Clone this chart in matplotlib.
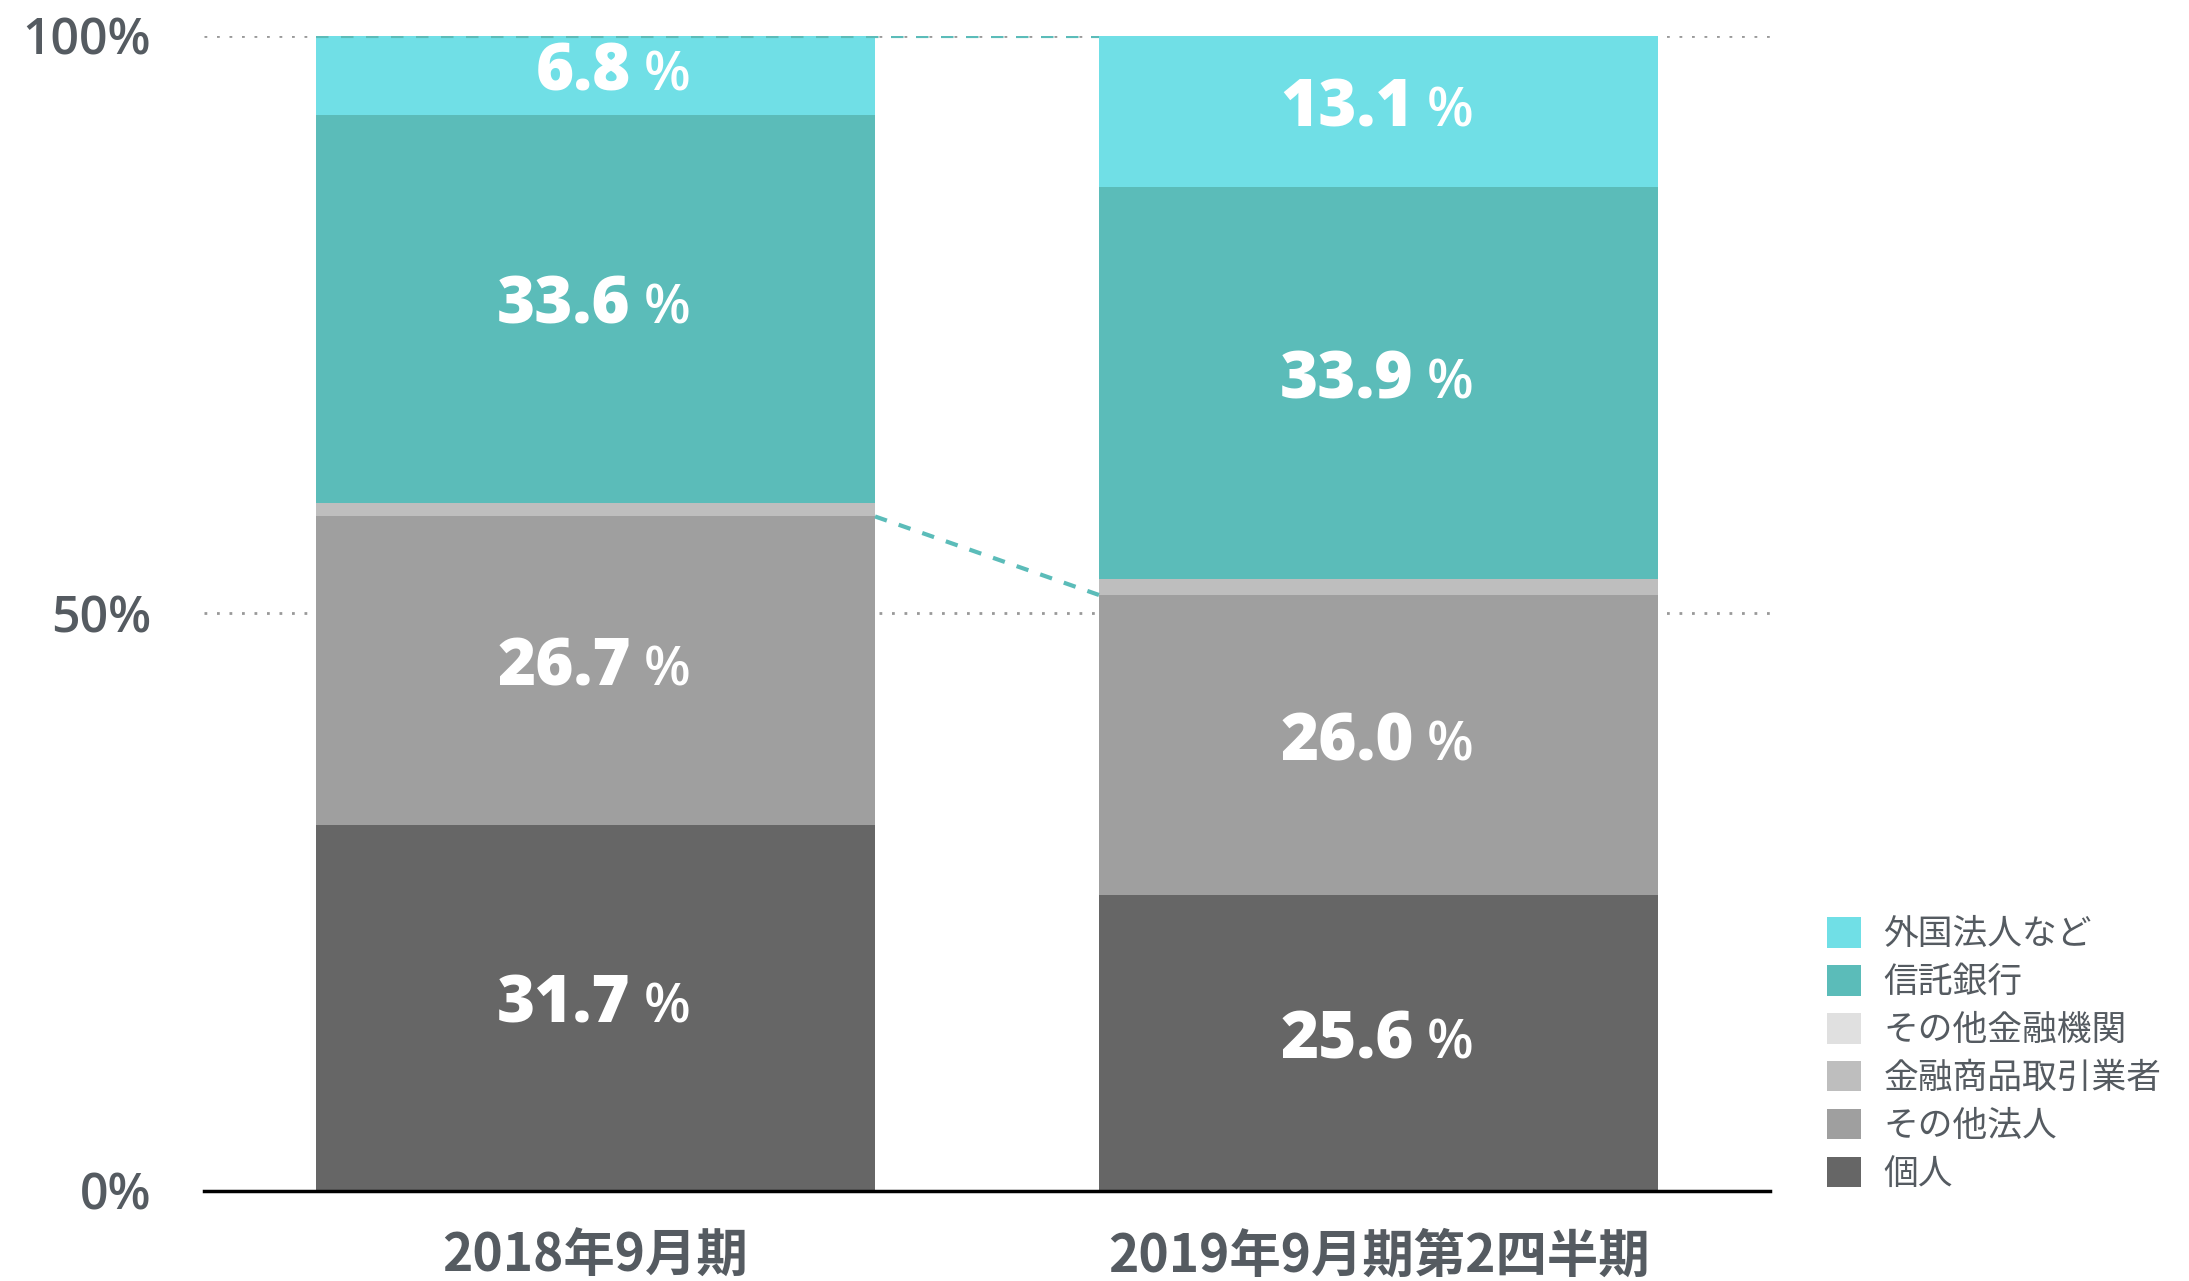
import matplotlib.pyplot as plt
from matplotlib.patches import Patch
import numpy as np

plt.rcParams['font.family'] = ['Open Sans', 'Noto Sans CJK JP', 'DejaVu Sans']

# data (bottom -> top of the stack)
periods = ['2018年9月期', '2019年9月期第2四半期']
groups = ['個人', 'その他法人', '金融商品取引業者', 'その他金融機関', '信託銀行', '外国法人など']
kojin = [31.7, 25.6]
sonota_hojin = [26.7, 26.0]
kinyu_shohin = [1.2, 1.4]
sonota_kinyu = [0.0, 0.0]
shintaku = [33.6, 33.9]
gaikoku = [6.8, 13.1]
shown = ['個人', 'その他法人', '信託銀行', '外国法人など']  # segments with a value label

colors = ['#666666', '#9f9f9f', '#bebebe', '#e0e0e0', '#5bbcb9', '#70dfe6']
teal = '#5bbcb9'
textc = '#555b61'

values = np.array([kojin, sonota_hojin, kinyu_shohin, sonota_kinyu, shintaku, gaikoku])
x = np.arange(len(periods))
w = 0.714

fig = plt.figure(figsize=(21.89, 12.81), dpi=100)
ax = fig.add_axes([0.0932, 0.0703, 0.7154, 0.9016])

bottom = np.zeros(len(periods))
for name, vals, c in zip(groups, values, colors):
    ax.bar(x, vals, w, bottom=bottom, color=c, zorder=2, linewidth=0)
    if name in shown:
        for xi, v, b in zip(x, vals, bottom):
            yb = b + v / 2 - 1.3
            ax.text(xi + 0.045, yb, f'{v:.1f}', ha='right', va='baseline',
                    color='white', fontsize=47, fontweight='heavy', zorder=5)
            ax.text(xi + 0.062, yb, '%', ha='left', va='baseline',
                    color='white', fontsize=39, fontweight='semibold', zorder=5)
    bottom = bottom + vals

# grid lines
for yv in [50, 100]:
    ax.axhline(yv, color='#999999', lw=2, ls=(0, (1, 3.5)), zorder=1)

# connectors
ax.plot([x[0] - w / 2, x[1] - w / 2], [100, 100], color=teal, lw=3,
        ls=(0, (3, 3)), zorder=4)
mid = values[0] + values[1]
ax.plot([x[0] + w / 2, x[1] - w / 2], [mid[0], mid[1]], color=teal, lw=3,
        ls=(0, (3, 3)), zorder=4)

ax.set_xlim(-0.5, 1.5)
ax.set_ylim(0, 100)
ax.set_yticks([0, 50, 100])
ax.set_yticklabels(['0%', '50%', '100%'])
ax.set_xticks(x)
ax.set_xticklabels(periods, fontfamily=['Noto Sans CJK JP'], fontweight='bold',
                   fontsize=37)
ax.tick_params(axis='y', length=0, pad=38, labelsize=36, labelcolor=textc)
ax.tick_params(axis='x', length=0, pad=28, labelcolor=textc)
for lab in ax.get_yticklabels():
    lab.set_fontweight('semibold')

for s in ['top', 'right', 'left']:
    ax.spines[s].set_visible(False)
ax.spines['bottom'].set_linewidth(2.5)
ax.spines['bottom'].set_color('black')
ax.spines['bottom'].set_zorder(6)

handles = [Patch(facecolor=c, label=g) for g, c in zip(groups, colors)][::-1]
leg = fig.legend(handles=handles, loc='upper left', bbox_to_anchor=(0.8346, 0.284),
                 frameon=False, prop={'family': 'Noto Sans CJK JP', 'size': 25},
                 handlelength=0.97, handleheight=0.97, handletextpad=0.65,
                 labelspacing=0.37, borderaxespad=0, borderpad=0)
for t in leg.get_texts():
    t.set_color(textc)

fig.savefig('out.png', dpi=100)
